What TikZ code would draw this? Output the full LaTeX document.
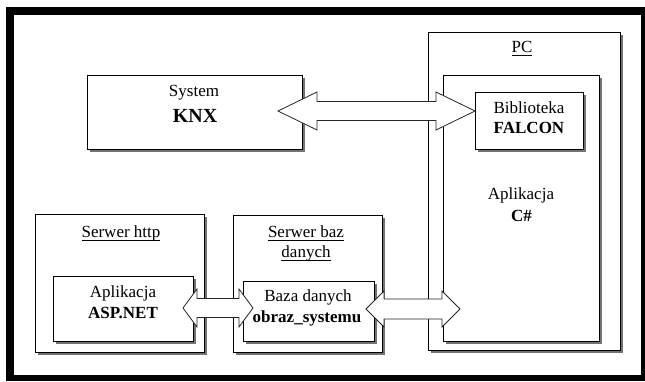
\documentclass[tikz,border=0pt]{standalone}
\usepackage{fontspec}
\setmainfont{Liberation Serif}
\usetikzlibrary{calc}
\newcommand\ulx[1]{\setbox0\hbox{#1}\leavevmode\rlap{\rule[-4.2pt]{\wd0}{0.9pt}}\box0}
\newcommand\dblarrow[5]{%
  \draw[barrow] let \p1=(#1), \p2=(#2) in
   (\x1,\y1) -- (\x1+#3,\y1+#4) -- (\x1+#3,\y1+#5) -- (\x2-#3,\y1+#5)
   -- (\x2-#3,\y1+#4) -- (\x2,\y1) -- (\x2-#3,\y1-#4) -- (\x2-#3,\y1-#5)
   -- (\x1+#3,\y1-#5) -- (\x1+#3,\y1-#4) -- cycle;}
\newcommand\boxshadow[1]{%
  \draw[shadowline] ($(#1.north east)+(1.8,3)$) -- ($(#1.south east)+(1.8,1.8)$)
    -- ($(#1.south west)+(3,1.8)$);}
\begin{document}
\begin{tikzpicture}[x=1pt,y=-1pt,
  box/.style={draw=black, line width=0.9pt, fill=white, anchor=north west,
    inner sep=0pt, outer sep=0pt},
  shadowline/.style={draw=black!55, line width=1.6pt},
  lbl/.style={font=\fontsize{17}{20}\selectfont, inner sep=0pt, anchor=base},
  blbl/.style={lbl, font=\fontsize{17}{20}\selectfont\bfseries},
  barrow/.style={draw=black!85, line width=0.8pt, fill=white, line join=miter}]
\fill[white] (0,0) rectangle (645,381);
\useasboundingbox (0,0) rectangle (645,381);
% outer thick frame
\fill[black] (6,7) rectangle (645,381);
\fill[white] (14,15) rectangle (641,375);

% boxes
\node[box, minimum width=215pt, minimum height=74pt] (knx) at (87,75) {};
\boxshadow{knx}
\node[box, minimum width=192pt, minimum height=318pt] (pc) at (428,32) {};
\boxshadow{pc}
\node[box, minimum width=156pt, minimum height=266pt] (csharp) at (443,75) {};
\boxshadow{csharp}
\node[box, minimum width=108pt, minimum height=57pt] (falcon) at (475,92) {};
\boxshadow{falcon}
\node[box, minimum width=169pt, minimum height=138pt] (http) at (35,214) {};
\boxshadow{http}
\node[box, minimum width=140pt, minimum height=65pt] (asp) at (53,276) {};
\boxshadow{asp}
\node[box, minimum width=149pt, minimum height=137pt] (dbsrv) at (233,215) {};
\boxshadow{dbsrv}
\node[box, minimum width=131pt, minimum height=60pt] (baza) at (243,281) {};
\boxshadow{baza}

% texts
\node[lbl] (tsys) at (194,96) {System};
\node[blbl, font=\fontsize{20}{24}\selectfont\bfseries] (tknx) at (195,122) {KNX};
\node[lbl] (tpc) at (522,52) {\ulx{PC}};
\node[lbl] (tbib) at (529,113) {Biblioteka};
\node[blbl] (tfal) at (529,133) {FALCON};
\node[lbl] (tapc) at (521,199) {Aplikacja};
\node[blbl] (tcs) at (521.5,221) {C\#};
\node[lbl] (thttp) at (121,237) {\ulx{Serwer http}};
\node[lbl] (tapa) at (123,297) {Aplikacja};
\node[blbl] (tasp) at (123,318) {ASP.NET};
\node[lbl] (tsb1) at (306,237) {\ulx{Serwer baz}};
\node[lbl] (tsb2) at (306,257) {\ulx{danych}};
\node[lbl] (tbaza) at (308,301) {Baza danych};
\node[blbl] (tobr) at (307,322) {obraz\_systemu};

% arrow end points
\coordinate (a1l) at (278,111);
\coordinate (a1r) at (falcon.west |- a1l);
\coordinate (a2l) at (183,308);
\coordinate (a2r) at (253,308);
\coordinate (a3l) at (366,309);
\coordinate (a3r) at (460,309);

\dblarrow{a1l}{a1r}{39pt}{19pt}{9.5pt}
\dblarrow{a2l}{a2r}{14pt}{19pt}{9.5pt}
\dblarrow{a3l}{a3r}{18pt}{18pt}{10pt}
\end{tikzpicture}
\end{document}
